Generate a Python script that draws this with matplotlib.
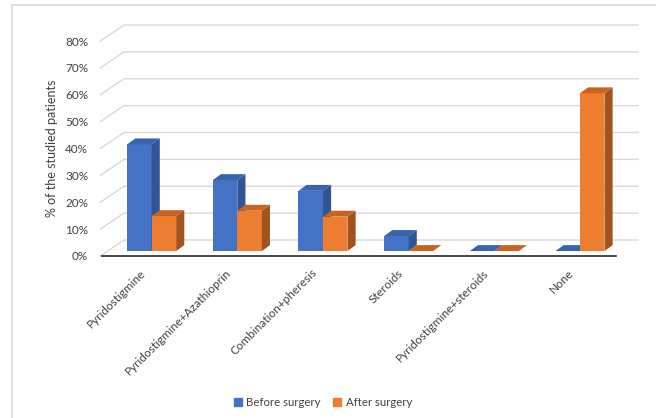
import matplotlib.pyplot as plt
from matplotlib.patches import Polygon, Rectangle
from matplotlib.lines import Line2D
from matplotlib.transforms import ScaledTranslation

categories = ['Pyridostigmine', 'Pyridostigmine+Azathioprin', 'Combination+pheresis',
              'Steroids', 'Pyridostigmine+steroids', 'None']
before = [39.7, 26.4, 22.4, 5.6, 0, 0]
after = [13.0, 15.0, 12.8, 0, 0, 58.7]
series_names = ['Before surgery', 'After surgery']
yticks = [0, 10, 20, 30, 40, 50, 60, 70, 80]

plt.rcParams['font.family'] = ['Lato', 'DejaVu Sans']
fig = plt.figure(figsize=(6.56, 4.18), dpi=100)
ax = fig.add_axes([102/656, 1-256/418, 514/656, 215/418])
ax.set_xlim(-0.5, 5.5)
ax.set_ylim(0, 80)

# oblique depth vector (data units)
dx = 22/85.67
dy = 16/2.6875
f0 = 0.31
f1 = 0.68
w = 0.286

# back wall + side wall gridlines
for t in yticks:
    ax.plot([-0.5-0.02, -0.5+dx, 5.5+dx], [t, t+dy, t+dy], color='#d9d9d9', lw=1,
            clip_on=False, zorder=1)

cols = [('#4472c4', '#3a63ad', '#2f5597'), ('#ed7d31', '#c8641f', '#a3521b')]

def bar3d(x0, h, c):
    front, top, side = c
    ox, oy = f0*dx, f0*dy
    ex, ey = (f1-f0)*dx, (f1-f0)*dy
    xa, xb = x0+ox, x0+w+ox
    ax.add_patch(Rectangle((xa, oy), w, h, facecolor=front, edgecolor='none', clip_on=False, zorder=3))
    ax.add_patch(Polygon([(xb, oy), (xb+ex, oy+ey), (xb+ex, oy+ey+h), (xb, oy+h)],
                         facecolor=side, edgecolor='none', clip_on=False, zorder=3))
    ax.add_patch(Polygon([(xa, oy+h), (xb, oy+h), (xb+ex, oy+h+ey), (xa+ex, oy+h+ey)],
                         facecolor=top, edgecolor='none', clip_on=False, zorder=3))

for i in range(len(categories)):
    bar3d(i-w, before[i], cols[0])
    bar3d(i, after[i], cols[1])

for s in ['top', 'right', 'left']:
    ax.spines[s].set_visible(False)
ax.spines['bottom'].set_color('#3a3a3a')
ax.spines['bottom'].set_linewidth(1.3)

ax.set_yticks(yticks)
ax.set_yticklabels([str(t)+'%' for t in yticks], fontsize=8.5, color='#404040')
ax.tick_params(axis='y', length=0, pad=10)
ax.set_xticks(range(len(categories)))
ax.set_xticklabels(categories, rotation=45, ha='right', rotation_mode='anchor',
                   fontsize=8.5, color='#404040')
ax.tick_params(axis='x', length=0, pad=8)
shift = ScaledTranslation(-5/100, 0, fig.dpi_scale_trans)
for lab in ax.get_xticklabels():
    lab.set_transform(lab.get_transform() + shift)

fig.text(52/656, 1-148/418, '% of the studied patients', rotation=90, ha='center',
         va='center', fontsize=9, color='#404040')

hs = [Rectangle((0, 0), 1, 1, color=cols[0][0]), Rectangle((0, 0), 1, 1, color=cols[1][0])]
fig.legend(hs, series_names, loc='center', bbox_to_anchor=(323/656, 1-402/418), ncol=2,
           frameon=False, fontsize=8.2, handlelength=0.7, handleheight=0.7,
           handletextpad=0.4, columnspacing=1.1, labelcolor='#404040')

# chart border
fig.add_artist(Line2D([12/656, 12/656], [0, 1-5/418], color='#d9d9d9', lw=1.2))
fig.add_artist(Line2D([12/656, 1], [1-5/418, 1-5/418], color='#d9d9d9', lw=1.2))

fig.savefig('out.png', dpi=100)
